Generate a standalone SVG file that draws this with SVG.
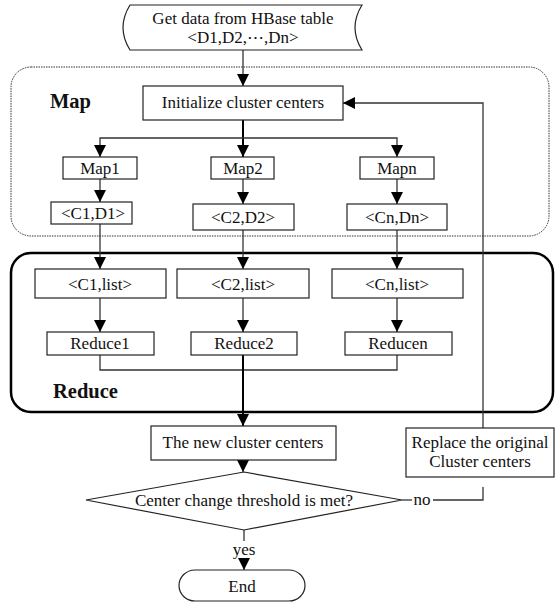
<svg xmlns="http://www.w3.org/2000/svg" width="556" height="603" viewBox="0 0 556 603">
<defs>
<marker id="ah" viewBox="0 0 12 12" refX="12" refY="6" markerWidth="12" markerHeight="12" markerUnits="userSpaceOnUse" orient="auto">
<path d="M0,0 L12,6 L0,12 Z" fill="#000"/>
</marker>
</defs>
<style>
.box{fill:#fff;stroke:#222;stroke-width:1.2}
.t{font-family:"Liberation Serif","Times New Roman",serif;font-size:17px;fill:#111;text-anchor:middle}
.b{font-family:"Liberation Serif","Times New Roman",serif;font-size:20.5px;font-weight:bold;fill:#111}
.c{fill:none;stroke:#333;stroke-width:1.3}
.ck{fill:none;stroke:#000;stroke-width:2}
.map{fill:none;stroke:#333;stroke-width:1;stroke-dasharray:1.5,1}
.red{fill:none;stroke:#000;stroke-width:2.5}
</style>
<rect width="556" height="603" fill="#fff"/>
<g id="map-group"><rect class="map" x="11" y="67" width="538" height="169" rx="20"/><text class="b" x="50" y="108">Map</text></g>
<g id="reduce-group"><rect class="red" x="11" y="253" width="542" height="159" rx="20"/><text class="b" x="53" y="398">Reduce</text></g>
<g id="connectors">
<line class="c" x1="243" y1="50" x2="243" y2="86" marker-end="url(#ah)"/>
<line class="ck" x1="243" y1="120" x2="243" y2="157" marker-end="url(#ah)"/>
<path class="c" d="M243,138 H100 V157" marker-end="url(#ah)"/>
<path class="c" d="M243,138 H397 V157" marker-end="url(#ah)"/>
<line class="c" x1="100" y1="179" x2="100" y2="202" marker-end="url(#ah)"/>
<line class="c" x1="243" y1="179" x2="243" y2="204" marker-end="url(#ah)"/>
<line class="c" x1="397" y1="179" x2="397" y2="204" marker-end="url(#ah)"/>
<line class="c" x1="100" y1="224" x2="100" y2="269" marker-end="url(#ah)"/>
<line class="c" x1="243" y1="230" x2="243" y2="269" marker-end="url(#ah)"/>
<line class="c" x1="397" y1="230" x2="397" y2="269" marker-end="url(#ah)"/>
<line class="c" x1="100" y1="298" x2="100" y2="332" marker-end="url(#ah)"/>
<line class="c" x1="243" y1="298" x2="243" y2="332" marker-end="url(#ah)"/>
<line class="c" x1="397" y1="298" x2="397" y2="332" marker-end="url(#ah)"/>
<path class="c" d="M100,355 V370 H397 V355"/>
<line class="ck" x1="243" y1="355" x2="243" y2="426" marker-end="url(#ah)"/>
<line class="c" x1="243" y1="460" x2="243" y2="472" marker-end="url(#ah)"/>
<path class="c" d="M483,428 V103 H343" marker-end="url(#ah)"/>
<line class="c" x1="402" y1="500" x2="412" y2="500"/>
<path class="c" d="M433,500 H483 V487"/>
<text class="t" x="422" y="505">no</text>
<line class="c" x1="244" y1="530" x2="244" y2="541"/>
<text class="t" x="244" y="555">yes</text>
<line class="c" x1="244" y1="558" x2="244" y2="570" marker-end="url(#ah)"/>
</g>
<g id="start"><path class="box" d="M130,5 L362,5 Q348,27.5 362,50 L130,50 Q116,27.5 130,5 Z"/><text class="t" x="243" y="24">Get data from HBase table</text><text class="t" x="243" y="43">&lt;D1,D2,⋯,Dn&gt;</text></g>
<g id="init"><rect class="box" x="143" y="86" width="200" height="34"/><text class="t" x="243" y="108">Initialize cluster centers</text></g>
<g id="map1"><rect class="box" x="63" y="157" width="74" height="22"/><text class="t" x="100" y="174">Map1</text></g>
<g id="map2"><rect class="box" x="211" y="157" width="63" height="22"/><text class="t" x="243" y="174">Map2</text></g>
<g id="mapn"><rect class="box" x="360" y="157" width="74" height="22"/><text class="t" x="397" y="174">Mapn</text></g>
<g id="c1d1"><rect class="box" x="51" y="202" width="81" height="22"/><text class="t" x="93" y="219">&lt;C1,D1&gt;</text></g>
<g id="c2d2"><rect class="box" x="193" y="204" width="101" height="26"/><text class="t" x="243" y="223">&lt;C2,D2&gt;</text></g>
<g id="cndn"><rect class="box" x="347" y="204" width="100" height="26"/><text class="t" x="397" y="223">&lt;Cn,Dn&gt;</text></g>
<g id="c1list"><rect class="box" x="35" y="269" width="131" height="29"/><text class="t" x="100" y="290">&lt;C1,list&gt;</text></g>
<g id="c2list"><rect class="box" x="177" y="269" width="132" height="29"/><text class="t" x="243" y="290">&lt;C2,list&gt;</text></g>
<g id="cnlist"><rect class="box" x="332" y="269" width="131" height="29"/><text class="t" x="397" y="290">&lt;Cn,list&gt;</text></g>
<g id="reduce1"><rect class="box" x="47" y="332" width="107" height="23"/><text class="t" x="100" y="349">Reduce1</text></g>
<g id="reduce2"><rect class="box" x="191" y="332" width="106" height="23"/><text class="t" x="244" y="349">Reduce2</text></g>
<g id="reducen"><rect class="box" x="345" y="332" width="107" height="23"/><text class="t" x="398" y="349">Reducen</text></g>
<g id="newcenters"><rect class="box" x="151" y="426" width="185" height="34"/><text class="t" x="243" y="448">The new cluster centers</text></g>
<g id="replace"><rect class="box" x="406" y="428" width="148" height="49"/><text class="t" x="480" y="448">Replace the original</text><text class="t" x="480" y="467">Cluster centers</text></g>
<g id="decision"><polygon class="box" points="244,472 402,500 244,530 86,500"/><text class="t" x="244" y="506">Center change threshold is met?</text></g>
<g id="end"><path class="box" d="M195,570 H289 A16,15.5 0 0 1 289,601 H195 A16,15.5 0 0 1 195,570 Z"/><text class="t" x="242" y="592">End</text></g>
</svg>
